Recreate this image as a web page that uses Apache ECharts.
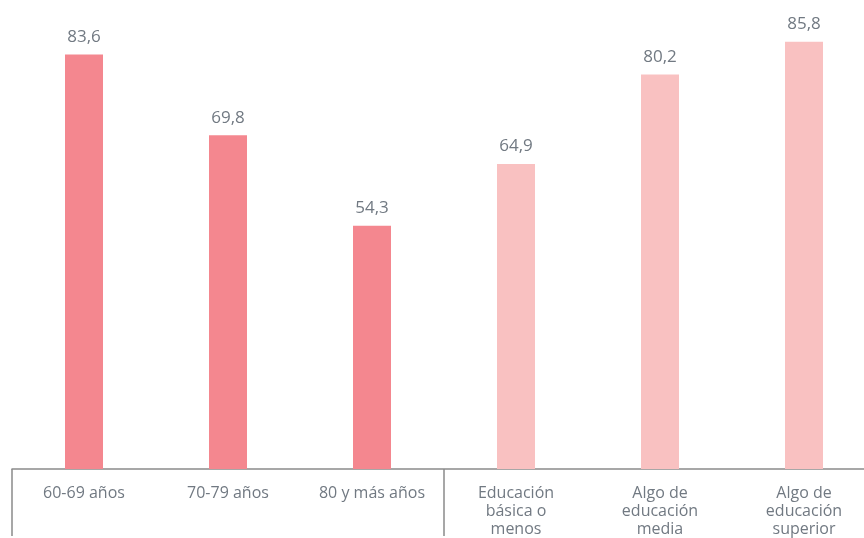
<!DOCTYPE html>
<html><head><meta charset="utf-8">
<script src="https://cdn.jsdelivr.net/npm/echarts@6/dist/echarts.min.js"></script>
<style>html,body{margin:0;padding:0;background:#fff;overflow:hidden}#c{width:876px;height:538px}</style>
</head><body><div id="c"></div>
<script>
var categories = ["60-69 años", "70-79 años", "80 y más años", "Educación\nbásica o\nmenos", "Algo de\neducación\nmedia", "Algo de\neducación\nsuperior"];
var values = [83.6, 69.8, 54.3, 64.9, 80.2, 85.8];
var groupColors = ["#F4878F", "#F4878F", "#F4878F", "#F9C1C1", "#F9C1C1", "#F9C1C1"];

var chart = echarts.init(document.getElementById('c'));
chart.setOption({
  animation: false,
  grid: {left: 12, top: 0, right: 0, bottom: 66, containLabel: false},
  xAxis: {
    type: 'category', data: categories, boundaryGap: true,
    axisLine: {show: true, lineStyle: {color: '#8a8a8a', width: 1.5}},
    axisTick: {show: true, length: 67, lineStyle: {color: '#8a8a8a', width: 1.5},
      interval: function (i) { return i === 0 || i === 3; }},
    axisLabel: {color: '#717982', fontSize: 16, lineHeight: 18, margin: 15, interval: 0,
      fontFamily: 'Open Sans'}
  },
  yAxis: {type: 'value', min: 12.7, max: 92.94, show: false, splitLine: {show: false}},
  series: [{
    type: 'bar', barWidth: 38,
    data: values.map(function (v, i) { return {value: v, itemStyle: {color: groupColors[i]}}; }),
    label: {show: true, position: 'top', distance: 9, color: '#717982', fontSize: 17,
      fontFamily: 'Open Sans',
      formatter: function (p) { return p.value.toFixed(1).replace('.', ','); }}
  }]
});
</script></body></html>
